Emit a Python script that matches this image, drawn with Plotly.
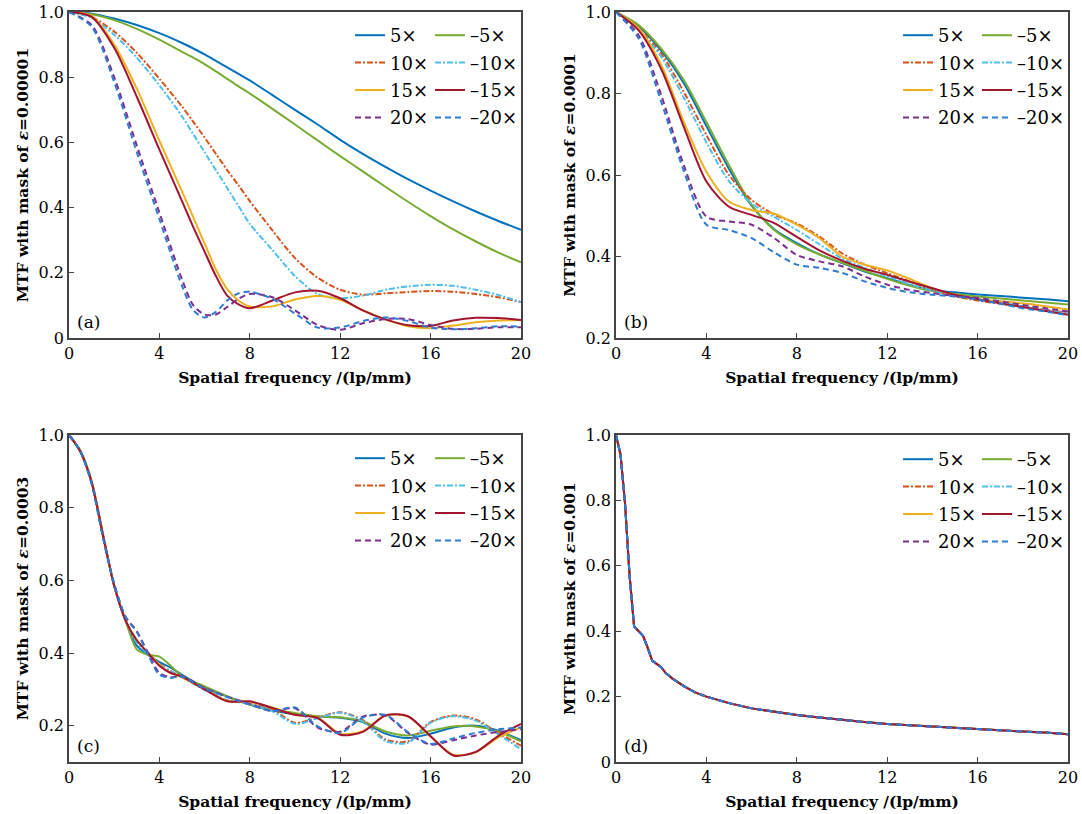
import plotly.graph_objects as go

# ---- data ----
a_x = [0, 1, 2, 3, 4, 5, 5.5, 6, 6.5, 7, 7.5, 8, 9, 10, 11, 12, 13, 14, 15, 16, 17, 18, 19, 20]
a_p5 = [1.0, 0.995, 0.98, 0.96, 0.935, 0.905, 0.888, 0.87, 0.85, 0.83, 0.81, 0.79, 0.745, 0.70, 0.655, 0.608, 0.565, 0.525, 0.487, 0.452, 0.419, 0.388, 0.359, 0.332]
a_m5 = [1.0, 0.993, 0.975, 0.948, 0.915, 0.878, 0.86, 0.84, 0.818, 0.795, 0.772, 0.75, 0.703, 0.655, 0.606, 0.558, 0.511, 0.464, 0.418, 0.374, 0.333, 0.296, 0.262, 0.232]
a_p10 = [1.0, 0.985, 0.94, 0.875, 0.795, 0.71, 0.663, 0.615, 0.565, 0.515, 0.468, 0.42, 0.33, 0.245, 0.185, 0.148, 0.133, 0.137, 0.141, 0.144, 0.142, 0.135, 0.125, 0.11]
a_m10 = [1.0, 0.982, 0.93, 0.86, 0.775, 0.68, 0.625, 0.57, 0.515, 0.46, 0.405, 0.35, 0.27, 0.19, 0.135, 0.122, 0.13, 0.148, 0.158, 0.163, 0.16, 0.148, 0.132, 0.11]
a_p15 = [1.0, 0.988, 0.9, 0.765, 0.605, 0.45, 0.37, 0.29, 0.21, 0.15, 0.115, 0.097, 0.097, 0.118, 0.129, 0.117, 0.085, 0.057, 0.036, 0.03, 0.038, 0.048, 0.054, 0.055]
a_m15 = [1.0, 0.985, 0.89, 0.74, 0.578, 0.42, 0.34, 0.265, 0.19, 0.13, 0.103, 0.091, 0.115, 0.14, 0.145, 0.122, 0.085, 0.057, 0.039, 0.037, 0.054, 0.062, 0.061, 0.055]
a_p20 = [1.0, 0.96, 0.80, 0.59, 0.385, 0.18, 0.10, 0.072, 0.072, 0.095, 0.12, 0.135, 0.125, 0.085, 0.04, 0.025, 0.045, 0.058, 0.058, 0.04, 0.028, 0.028, 0.033, 0.033]
a_m20 = [1.0, 0.955, 0.785, 0.57, 0.365, 0.16, 0.085, 0.063, 0.08, 0.115, 0.137, 0.142, 0.12, 0.075, 0.032, 0.032, 0.052, 0.063, 0.052, 0.032, 0.027, 0.03, 0.036, 0.035]

b_x = [0, 1, 2, 3, 4, 5, 6, 7, 8, 9, 10, 11, 12, 13, 14, 15, 16, 17, 18, 19, 20]
b_p5 = [1.0, 0.965, 0.905, 0.825, 0.72, 0.615, 0.525, 0.467, 0.433, 0.405, 0.384, 0.363, 0.347, 0.33, 0.318, 0.312, 0.307, 0.303, 0.299, 0.295, 0.29]
b_m5 = [1.0, 0.968, 0.91, 0.833, 0.73, 0.624, 0.527, 0.465, 0.43, 0.405, 0.385, 0.365, 0.345, 0.328, 0.315, 0.308, 0.302, 0.297, 0.292, 0.287, 0.282]
b_p10 = [1.0, 0.96, 0.898, 0.804, 0.698, 0.60, 0.539, 0.503, 0.481, 0.449, 0.408, 0.38, 0.359, 0.339, 0.318, 0.302, 0.292, 0.284, 0.276, 0.269, 0.262]
b_m10 = [1.0, 0.958, 0.89, 0.79, 0.68, 0.585, 0.53, 0.497, 0.465, 0.43, 0.395, 0.372, 0.352, 0.332, 0.316, 0.305, 0.296, 0.287, 0.278, 0.268, 0.26]
b_p15 = [1.0, 0.96, 0.87, 0.73, 0.608, 0.535, 0.514, 0.505, 0.478, 0.445, 0.40, 0.38, 0.366, 0.345, 0.322, 0.306, 0.295, 0.29, 0.285, 0.278, 0.27]
b_m15 = [1.0, 0.955, 0.86, 0.718, 0.584, 0.522, 0.502, 0.482, 0.448, 0.415, 0.39, 0.37, 0.355, 0.338, 0.322, 0.306, 0.295, 0.285, 0.276, 0.266, 0.257]
b_p20 = [1.0, 0.943, 0.796, 0.624, 0.498, 0.486, 0.478, 0.445, 0.404, 0.388, 0.376, 0.351, 0.331, 0.318, 0.31, 0.303, 0.298, 0.29, 0.281, 0.273, 0.265]
b_m20 = [1.0, 0.935, 0.78, 0.61, 0.478, 0.465, 0.445, 0.41, 0.38, 0.372, 0.36, 0.339, 0.323, 0.312, 0.306, 0.302, 0.294, 0.284, 0.273, 0.265, 0.256]

c_x = [0, 0.5, 1, 1.5, 2, 2.5, 3, 3.5, 4, 4.5, 5, 6, 7, 8, 9, 10, 11, 12, 13, 14, 15, 16, 17, 18, 19, 20]
c_p5 = [1.0, 0.955, 0.87, 0.725, 0.585, 0.49, 0.42, 0.395, 0.375, 0.36, 0.34, 0.305, 0.28, 0.258, 0.242, 0.232, 0.225, 0.222, 0.21, 0.178, 0.166, 0.178, 0.195, 0.2, 0.186, 0.16]
c_m5 = [1.0, 0.958, 0.875, 0.73, 0.585, 0.49, 0.41, 0.395, 0.39, 0.365, 0.336, 0.308, 0.281, 0.258, 0.244, 0.235, 0.226, 0.223, 0.212, 0.184, 0.173, 0.186, 0.198, 0.198, 0.184, 0.157]
c_p10 = [1.0, 0.955, 0.87, 0.725, 0.585, 0.49, 0.43, 0.40, 0.37, 0.35, 0.335, 0.30, 0.27, 0.262, 0.245, 0.208, 0.222, 0.237, 0.215, 0.162, 0.157, 0.21, 0.228, 0.217, 0.18, 0.145]
c_m10 = [1.0, 0.955, 0.87, 0.725, 0.585, 0.49, 0.428, 0.398, 0.368, 0.35, 0.333, 0.298, 0.27, 0.26, 0.24, 0.205, 0.22, 0.236, 0.212, 0.158, 0.153, 0.208, 0.226, 0.214, 0.176, 0.135]
c_p15 = [1.0, 0.955, 0.87, 0.725, 0.585, 0.49, 0.435, 0.40, 0.368, 0.345, 0.333, 0.30, 0.268, 0.265, 0.25, 0.23, 0.222, 0.178, 0.185, 0.228, 0.225, 0.17, 0.12, 0.127, 0.168, 0.195]
c_m15 = [1.0, 0.955, 0.87, 0.725, 0.585, 0.49, 0.435, 0.40, 0.365, 0.345, 0.335, 0.30, 0.267, 0.267, 0.249, 0.23, 0.221, 0.175, 0.183, 0.228, 0.226, 0.171, 0.118, 0.128, 0.172, 0.205]
c_p20 = [1.0, 0.955, 0.868, 0.72, 0.59, 0.50, 0.46, 0.40, 0.345, 0.333, 0.336, 0.304, 0.28, 0.26, 0.24, 0.248, 0.195, 0.183, 0.225, 0.228, 0.18, 0.148, 0.16, 0.173, 0.183, 0.19]
c_m20 = [1.0, 0.955, 0.865, 0.718, 0.59, 0.50, 0.458, 0.395, 0.34, 0.332, 0.335, 0.302, 0.279, 0.258, 0.24, 0.25, 0.198, 0.18, 0.222, 0.23, 0.182, 0.15, 0.165, 0.18, 0.19, 0.195]

d_x = [0, 0.2, 0.4, 0.6, 0.8, 1.0, 1.2, 1.4, 1.6, 1.8, 2.0, 2.2, 2.5, 3, 3.5, 4, 5, 6, 7, 8, 9, 10, 11, 12, 13, 14, 15, 16, 17, 18, 19, 20]
d_mtf = [1.0, 0.94, 0.79, 0.57, 0.415, 0.40, 0.385, 0.35, 0.31, 0.30, 0.29, 0.272, 0.255, 0.232, 0.213, 0.2, 0.18, 0.164, 0.153, 0.144, 0.136, 0.128, 0.122, 0.116, 0.112, 0.108, 0.103, 0.099, 0.096, 0.093, 0.09, 0.085]

names = ["5×", "–5×", "10×", "–10×", "15×", "–15×", "20×", "–20×"]
colors = ["#0072BD", "#77AC30", "#D95319", "#4DBEEE", "#EDB120", "#A2142F", "#7E2F8E", "#2E7BCF"]
dashes = ["solid", "solid", "6px,2px,2px,2px", "6px,2px,2px,2px", "solid", "solid", "6px,4px", "6px,4px"]

panels = [
    ("x", "y", a_x, [a_p5, a_m5, a_p10, a_m10, a_p15, a_m15, a_p20, a_m20]),
    ("x2", "y2", b_x, [b_p5, b_m5, b_p10, b_m10, b_p15, b_m15, b_p20, b_m20]),
    ("x3", "y3", c_x, [c_p5, c_m5, c_p10, c_m10, c_p15, c_m15, c_p20, c_m20]),
    ("x4", "y4", d_x, [d_mtf] * 8),
]

SERIF = "DejaVu Serif"
fig = go.Figure()

for p, (xa, ya, xs, series) in enumerate(panels):
    for i, ys in enumerate(series):
        leg = "legend" if 2 * p + i % 2 == 0 else "legend%d" % (2 * p + i % 2 + 1)
        fig.add_trace(go.Scatter(
            x=xs, y=ys, xaxis=xa, yaxis=ya, mode="lines", name=names[i],
            line=dict(color=colors[i], width=2, dash=dashes[i],
                      shape="linear" if p == 3 else "spline", smoothing=0.8),
            legend=leg, legendgroup="g%d_%d" % (p, i), showlegend=True))

W, H = 1082, 814
# plot-area boxes in pixels (left, right, top, bottom)
boxes = [(69, 521, 12, 338), (616, 1068, 12, 338), (69, 521, 435, 762), (616, 1068, 435, 762)]
eps = ["0.00001", "0.0001", "0.0003", "0.001"]
yranges = [[0, 1], [0.2, 1], [0.1, 1], [0, 1]]
yticks = [[0, 0.2, 0.4, 0.6, 0.8, 1.0], [0.2, 0.4, 0.6, 0.8, 1.0], [0.2, 0.4, 0.6, 0.8, 1.0], [0, 0.2, 0.4, 0.6, 0.8, 1.0]]
tags = ["(a)", "(b)", "(c)", "(d)"]

tickfont = dict(family=SERIF, size=16, color="black")
titlefont = dict(family=SERIF, size=15.5, color="black")
layout = {}
for p, (l, r, t, b) in enumerate(boxes):
    sfx = "" if p == 0 else str(p + 1)
    layout["xaxis" + sfx] = dict(
        domain=[l / W, r / W], anchor="y" + sfx, range=[0, 20], automargin=False,
        tickvals=[0, 4, 8, 12, 16, 20], ticks="inside", ticklen=5, tickcolor="#444",
        showline=True, linecolor="#444", linewidth=1.5, mirror=True,
        showgrid=False, zeroline=False, tickfont=tickfont, ticklabeloverflow="allow",
        title=dict(text="<b>Spatial frequency /(lp/mm)</b>", font=titlefont, standoff=10))
    layout["yaxis" + sfx] = dict(
        domain=[1 - b / H, 1 - t / H], anchor="x" + sfx, range=yranges[p], automargin=False,
        tickvals=yticks[p], ticktext=["0" if v == 0 else "%.1f" % v for v in yticks[p]],
        ticks="inside", ticklen=5, tickcolor="#444", ticklabeloverflow="allow",
        showline=True, linecolor="#444", linewidth=1.5, mirror=True,
        showgrid=False, zeroline=False, tickfont=tickfont,
        title=dict(text="<b>MTF with mask of <i>ε</i>=%s</b>" % eps[p], font=titlefont, standoff=6))

# legends: two columns per panel (column line starts, first row centre)
leg_cols = [(355, 435, 35), (903, 982, 35), (355, 435, 458), (903, 982, 459)]
k = 0
for p, (c1, c2, ry) in enumerate(leg_cols):
    for cx in (c1, c2):
        key = "legend" if k == 0 else "legend%d" % (k + 1)
        layout[key] = dict(
            x=(cx - 5) / W, y=1 - (ry - 18) / H, xanchor="left", yanchor="top",
            bgcolor="rgba(0,0,0,0)", font=dict(family=SERIF, size=18, color="black"),
            tracegroupgap=1, itemwidth=30)
        k += 1

annotations = []
for p, (l, r, t, b) in enumerate(boxes):
    annotations.append(dict(text=tags[p], x=(l + 6) / W, y=1 - (b - 16) / H,
                            xref="paper", yref="paper", xanchor="left", yanchor="middle",
                            showarrow=False, font=dict(family=SERIF, size=17, color="black")))

fig.update_layout(**layout)
fig.update_layout(
    width=W, height=H, autosize=False,
    margin=dict(l=0, r=0, t=0, b=0, autoexpand=False),
    paper_bgcolor="white", plot_bgcolor="white",
    annotations=annotations,
)

# drop the browser's default 8px body margin so the figure fills the window exactly
fig.write_html("out.html", config={"displayModeBar": False},
               post_script="document.body.style.margin='0px';")
